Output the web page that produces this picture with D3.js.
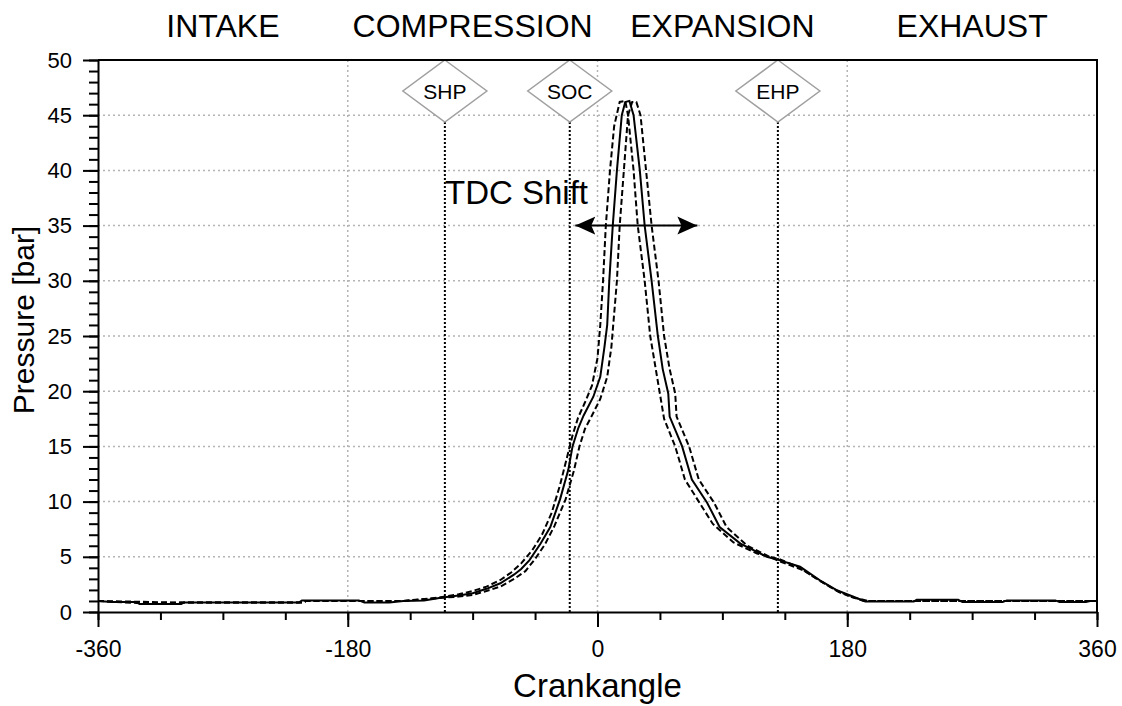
<!DOCTYPE html>
<html>
<head>
<meta charset="utf-8">
<script src="https://cdn.jsdelivr.net/npm/d3@7"></script>
<style>
  html, body { margin: 0; padding: 0; background: #fff; }
  svg { display: block; font-family: "Liberation Sans", Arial, sans-serif; }
  .axis path, .axis line { stroke: #000; stroke-width: 2; }
  .axis text { fill: #000; }
</style>
</head>
<body>
<div id="app"></div>
<script>
// phases along the top
const phaseNames = ['INTAKE', 'COMPRESSION', 'EXPANSION', 'EXHAUST'];
const phaseAngles = [-270, -90, 90, 270];

// event markers
const markerNames = ['SHP', 'SOC', 'EHP'];
const markerAngles = [-110, -20, 130];

// ticks
const xMajorTicks = [-360, -180, 0, 180, 360];
const xMinorTicks = d3.range(-360, 361, 45);
const yMajorTicks = [0, 5, 10, 15, 20, 25, 30, 35, 40, 45, 50];
const yMinorTicks = d3.range(0, 51, 1);
const xGrid = [-180, 0, 180];
const yGrid = [5, 10, 15, 20, 25, 30, 35, 40, 45];

// TDC shift arrow (deg, bar)
const shiftFrom = -16, shiftTo = 72, shiftLevel = 35;

// pressure traces [crankangle, bar]
const traceEarly = [
  [-360,1.0],[-330,0.8],[-300,0.85],[-212,0.85],[-210,1.0],[-170,1.0],[-140,1.0],[-115,1.3],[-100,1.6],
  [-90,1.9],[-80,2.3],[-70,2.9],[-62,3.6],[-55,4.4],[-47,5.6],[-40,7.0],[-33,9.0],[-27,11.5],[-22,14.0],
  [-18,16.0],[-14,17.6],[-9,19.0],[-4,20.5],[0,23],[2,26],[4,30],[6,35],[9,40],[12,44],[16,46.2],[20,46.3],
  [22,45],[26,40],[29,35],[34,30],[38,25],[42,22],[46,19],[48,17.5],[56,15],[63,12],[73,10],[83,8],
  [98,6.3],[115,5.3],[131,4.8],[146,4.0],[158,3.0],[170,2.1],[182,1.4],[192,1.0],[360,1.0]
];
const traceMean = [
  [-360,1.0],[-350,0.9],[-340,0.9],[-332,0.9],[-330,0.72],[-300,0.72],[-298,0.87],[-215,0.87],[-213,1.05],
  [-172,1.05],[-168,0.85],[-150,0.85],[-140,1.0],[-125,1.05],[-113,1.3],[-100,1.5],[-90,1.7],[-80,2.1],
  [-70,2.6],[-60,3.4],[-55,3.9],[-49,4.7],[-41,6.2],[-34,7.7],[-27,10.2],[-21,12.9],[-18,15.0],[-14,16.6],
  [-10,17.8],[-3,19.5],[2,21.3],[5,24],[7,26],[8.5,30],[11,35],[14,40],[17.5,45],[20,46.2],[23,46.3],
  [26,45],[30.5,40],[34,35],[39,30],[43.5,25],[47,22],[51,19.8],[52,17.7],[61,15],[68,12],[79,9.9],
  [88,7.7],[103,6.2],[122,5.0],[131,4.7],[146,4.1],[160,2.9],[172,2.0],[184,1.4],[193,0.95],[228,0.95],
  [230,1.1],[260,1.1],[263,0.9],[292,0.9],[295,1.05],[330,1.05],[333,0.9],[352,0.9],[355,1.0],[360,1.0]
];
const traceLate = [
  [-360,1.0],[-300,0.85],[-212,0.85],[-210,1.0],[-140,1.0],[-115,1.25],[-100,1.4],[-90,1.55],[-80,1.9],
  [-70,2.3],[-60,3.0],[-52,3.7],[-45,4.8],[-38,6.1],[-31,7.8],[-23,10.2],[-17,12.8],[-13,15.0],[-9,16.6],
  [-4,17.8],[2,19.3],[7,21.3],[10,24],[12,27],[14,30],[16,35],[19,40],[22,45],[25,46.2],[28,46.2],
  [31,45],[35,40],[39,35],[44,30],[48,25],[52,22],[56,19.8],[57,17.7],[66,15],[73,12],[84,9.9],
  [93,7.7],[108,6.0],[124,5.0],[131,4.6],[148,3.8],[162,2.7],[174,1.8],[185,1.3],[195,1.0],[360,1.0]
];

const W = 1122, H = 706;
const m = { left: 98, right: 25, top: 60, bottom: 94 };

function main() {
  const svg = d3.select('#app').append('svg')
    .attr('width', W)
    .attr('height', H);

  const x = d3.scaleLinear().domain([-360, 360]).range([m.left, W - m.right]);
  const y = d3.scaleLinear().domain([0, 50]).range([H - m.bottom, m.top]);

  // grid
  const grid = svg.append('g')
    .attr('stroke', '#b4b4b4')
    .attr('stroke-width', 1.5)
    .attr('stroke-dasharray', '2,3');
  grid.selectAll('.gy').data(yGrid).enter().append('line')
    .attr('x1', x(-360)).attr('x2', x(360))
    .attr('y1', d => y(d)).attr('y2', d => y(d));
  grid.selectAll('.gx').data(xGrid).enter().append('line')
    .attr('x1', d => x(d)).attr('x2', d => x(d))
    .attr('y1', y(0)).attr('y2', y(50));

  // marker lines + diamonds
  const mk = svg.append('g');
  markerAngles.forEach((a, i) => {
    const cx = x(a);
    mk.append('line')
      .attr('x1', cx).attr('x2', cx)
      .attr('y1', y(50) + 62).attr('y2', y(0))
      .attr('stroke', '#000')
      .attr('stroke-width', 2)
      .attr('stroke-dasharray', '2,2');
    mk.append('path')
      .attr('d', `M${cx},${y(50)} L${cx + 42},${y(50) + 31} L${cx},${y(50) + 62} L${cx - 42},${y(50) + 31} Z`)
      .attr('fill', '#fff')
      .attr('stroke', '#a0a0a0')
      .attr('stroke-width', 1.5);
    mk.append('text')
      .attr('x', cx).attr('y', y(50) + 39)
      .attr('text-anchor', 'middle')
      .attr('font-size', 21)
      .text(markerNames[i]);
  });

  // traces
  const line = d3.line().x(d => x(d[0])).y(d => y(d[1]));
  svg.append('path').datum(traceEarly)
    .attr('d', line).attr('fill', 'none')
    .attr('stroke', '#000').attr('stroke-width', 2)
    .attr('stroke-dasharray', '6,3');
  svg.append('path').datum(traceLate)
    .attr('d', line).attr('fill', 'none')
    .attr('stroke', '#000').attr('stroke-width', 2)
    .attr('stroke-dasharray', '6,3');
  svg.append('path').datum(traceMean)
    .attr('d', line).attr('fill', 'none')
    .attr('stroke', '#000').attr('stroke-width', 2);

  // TDC shift arrow
  const defs = svg.append('defs');
  defs.append('marker')
    .attr('id', 'ah')
    .attr('viewBox', '0 0 20 20')
    .attr('refX', 20).attr('refY', 10)
    .attr('markerWidth', 20).attr('markerHeight', 20)
    .attr('markerUnits', 'userSpaceOnUse')
    .attr('orient', 'auto-start-reverse')
    .append('path')
    .attr('d', 'M0,1 L20,10 L0,19 L4,10 Z')
    .attr('fill', '#000');
  svg.append('line')
    .attr('x1', x(shiftFrom)).attr('x2', x(shiftTo))
    .attr('y1', y(shiftLevel)).attr('y2', y(shiftLevel))
    .attr('stroke', '#000').attr('stroke-width', 2)
    .attr('marker-start', 'url(#ah)')
    .attr('marker-end', 'url(#ah)');
  svg.append('text')
    .attr('x', 445).attr('y', 204)
    .attr('font-size', 33)
    .text('TDC Shift');

  // axes
  svg.append('g').attr('class', 'axis')
    .attr('transform', `translate(0,${y(0)})`)
    .call(d3.axisBottom(x).tickValues(xMinorTicks).tickSize(8).tickFormat(''))
    .call(g => g.select('.domain').remove());
  svg.append('g').attr('class', 'axis')
    .attr('transform', `translate(0,${y(0)})`)
    .call(d3.axisBottom(x).tickValues(xMajorTicks).tickSize(15).tickPadding(14).tickSizeOuter(0).tickFormat(d => String(d)))
    .call(g => g.selectAll('text').attr('font-size', 23).attr('font-family', null));

  svg.append('g').attr('class', 'axis')
    .attr('transform', `translate(${x(-360)},0)`)
    .call(d3.axisLeft(y).tickValues(yMinorTicks).tickSize(9).tickFormat(''))
    .call(g => g.select('.domain').remove());
  svg.append('g').attr('class', 'axis')
    .attr('transform', `translate(${x(-360)},0)`)
    .call(d3.axisLeft(y).tickValues(yMajorTicks).tickSize(15).tickPadding(11).tickSizeOuter(0).tickFormat(d => String(d)))
    .call(g => g.selectAll('text').attr('font-size', 22).attr('font-family', null));

  // frame top / right
  svg.append('path')
    .attr('d', `M${x(-360)},${y(50)} H${x(360)} V${y(0)}`)
    .attr('fill', 'none').attr('stroke', '#000').attr('stroke-width', 2);

  // phase labels
  svg.selectAll('.phase').data(phaseNames).enter().append('text')
    .attr('x', (d, i) => x(phaseAngles[i]))
    .attr('y', 37)
    .attr('text-anchor', 'middle')
    .attr('font-size', 32)
    .text(d => d);

  // axis titles
  svg.append('text')
    .attr('x', x(0)).attr('y', 697)
    .attr('text-anchor', 'middle')
    .attr('font-size', 33)
    .text('Crankangle');
  svg.append('text')
    .attr('transform', 'translate(34,320) rotate(-90)')
    .attr('text-anchor', 'middle')
    .attr('font-size', 30)
    .text('Pressure [bar]');
}

main();
</script>
</body>
</html>
